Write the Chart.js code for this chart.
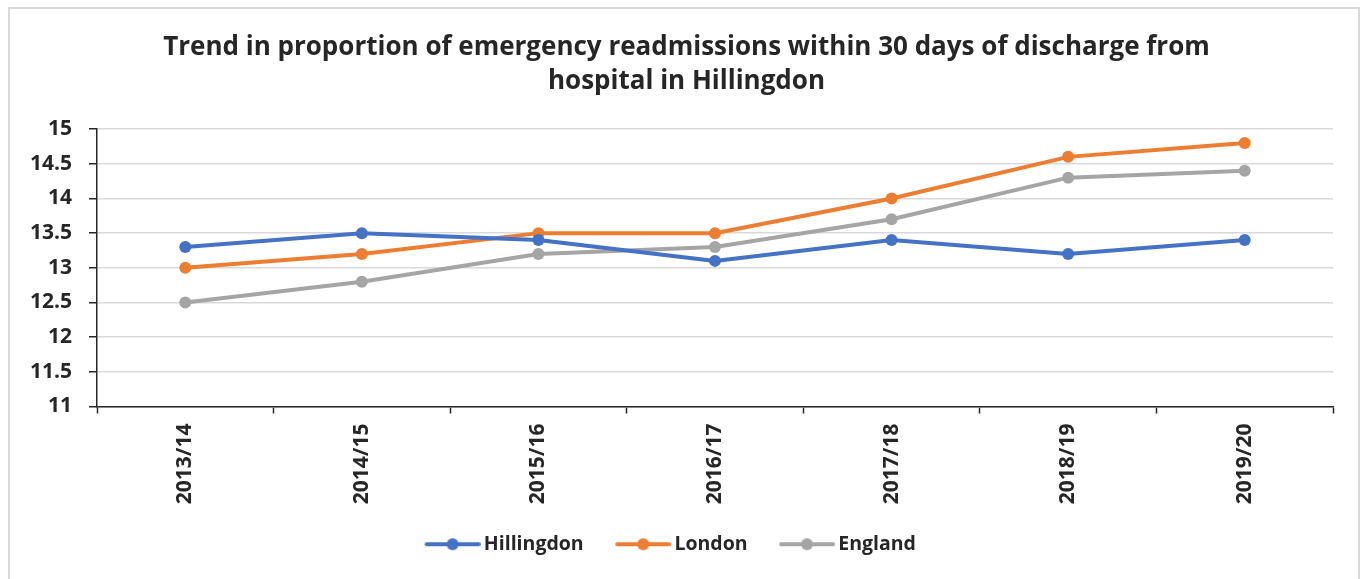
<!DOCTYPE html>
<html>
<head>
<meta charset="utf-8">
<script src="https://cdn.jsdelivr.net/npm/chart.js@4.4.1/dist/chart.umd.min.js"></script>
<style>
  html, body { margin: 0; padding: 0; background: #fff; }
  body { width: 1367px; height: 579px; position: relative; overflow: hidden; }
  #frame {
    position: absolute; left: 8px; top: 7px; width: 1352px; height: 600px;
    border: 2px solid #d9d9d9; box-sizing: border-box;
  }
  #wrap { position: absolute; left: 0; top: 0; width: 1367px; height: 579px; }
</style>
</head>
<body>
<div id="frame"></div>
<div id="wrap"><canvas id="myChart" width="1367" height="579"></canvas></div>
<script>
// Emergency readmissions within 30 days of discharge (%)
const years = ['2013/14', '2014/15', '2015/16', '2016/17', '2017/18', '2018/19', '2019/20'];
const hillingdon = [13.3, 13.5, 13.4, 13.1, 13.4, 13.2, 13.4];
const london = [13.0, 13.2, 13.5, 13.5, 14.0, 14.6, 14.8];
const england = [12.5, 12.8, 13.2, 13.3, 13.7, 14.3, 14.4];
const yTicks = [11, 11.5, 12, 12.5, 13, 13.5, 14, 14.5, 15];

const textColor = '#262626';
const fontFamily = '"Open Sans", Lato, sans-serif';

// Legend marker: short thick line with a dot, drawn in the right part
// of a wider transparent image so it sits just before the label text
function legendMarker(color) {
    const c = document.createElement('canvas');
    c.width = 68;
    c.height = 14;
    const g = c.getContext('2d');
    g.strokeStyle = color;
    g.lineWidth = 4;
    g.lineCap = 'round';
    g.beginPath();
    g.moveTo(14, 7);
    g.lineTo(66, 7);
    g.stroke();
    g.fillStyle = color;
    g.beginPath();
    g.arc(40, 7, 6, 0, Math.PI * 2);
    g.fill();
    return c;
}

function makeSeries(label, data, color) {
    return {
        label: label,
        data: data,
        borderColor: color,
        backgroundColor: color,
        borderWidth: 4,
        pointStyle: 'circle',
        pointRadius: 6,
        pointHoverRadius: 6,
        pointBackgroundColor: color,
        pointBorderWidth: 0,
        tension: 0
    };
}

// Title centred on the whole canvas rather than on the padded box
const boxShift = {
    id: 'boxShift',
    afterLayout(chart) {
        if (chart.titleBlock) {
            chart.titleBlock.left = 0;
            chart.titleBlock.right = chart.width + 6;
        }
        if (chart.legend) {
            chart.legend.left += 1;
            chart.legend.right += 1;
        }
    }
};

const ctx = document.getElementById('myChart').getContext('2d');
const myChart = new Chart(ctx, {
    type: 'line',
    data: {
        labels: years,
        datasets: [
            makeSeries('Hillingdon', hillingdon, '#4472c4'),
            makeSeries('London', london, '#ed7d31'),
            makeSeries('England', england, '#a5a5a5')
        ]
    },
    plugins: [boxShift],
    options: {
        responsive: false,
        animation: false,
        layout: { padding: { left: 0, right: 34, top: 0, bottom: 15 } },
        scales: {
            x: {
                offset: true,
                grid: {
                    offset: true,
                    drawOnChartArea: false,
                    drawTicks: true,
                    tickLength: 7,
                    tickColor: '#262626',
                    tickWidth: 1.5
                },
                border: { color: '#262626', width: 1.5 },
                ticks: {
                    color: textColor,
                    minRotation: 90,
                    maxRotation: 90,
                    padding: 10,
                    font: { family: fontFamily, size: 21, weight: 'bold' }
                },
                afterFit: function (scale) { scale.height = 102; }
            },
            y: {
                min: 11,
                max: 15,
                afterBuildTicks: function (scale) {
                    scale.ticks = yTicks.map(v => ({ value: v }));
                },
                grid: {
                    color: '#d9d9d9',
                    lineWidth: 1.5,
                    tickLength: 8,
                    tickColor: '#262626',
                    tickWidth: 1.5
                },
                border: { color: '#262626', width: 1.5 },
                ticks: {
                    color: textColor,
                    padding: 17,
                    callback: value => String(value),
                    font: { family: fontFamily, size: 21, weight: 'bold' }
                },
                afterFit: function (scale) { scale.width = 97; }
            }
        },
        plugins: {
            title: {
                display: true,
                text: ['Trend in proportion of emergency readmissions within 30 days of discharge from',
                       'hospital in Hillingdon'],
                color: textColor,
                font: { family: fontFamily, size: 26, weight: 'bold', lineHeight: 1.31 },
                padding: { top: 31, bottom: 30 }
            },
            legend: {
                position: 'bottom',
                labels: {
                    color: textColor,
                    usePointStyle: true,
                    pointStyleWidth: 55,
                    boxWidth: 55,
                    padding: 26,
                    font: { family: fontFamily, size: 19.5, weight: 'bold' },
                    generateLabels: function (chart) {
                        const items = Chart.defaults.plugins.legend.labels.generateLabels(chart);
                        items.forEach(item => {
                            item.pointStyle = legendMarker(chart.data.datasets[item.datasetIndex].borderColor);
                        });
                        return items;
                    }
                }
            },
            tooltip: { enabled: false }
        }
    }
});
</script>
</body>
</html>
